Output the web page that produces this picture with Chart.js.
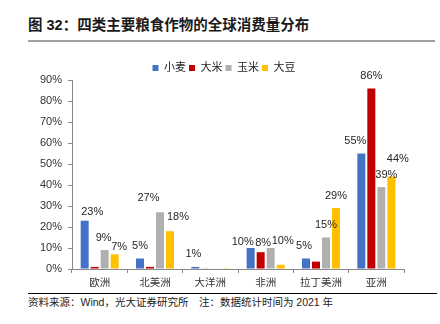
<!DOCTYPE html>
<html>
<head>
<meta charset="utf-8">
<script src="https://cdn.jsdelivr.net/npm/chart.js@4"></script>
<style>
  body { margin: 0; width: 440px; height: 324px; background: #fff; position: relative; overflow: hidden;
         font-family: "Liberation Sans", "Noto Sans CJK SC", sans-serif; }
  #title { position: absolute; left: 28px; top: 15px; font-size: 14.5px; font-weight: bold; color: #1a1a1a; line-height: 20px; }
  #rule1 { position: absolute; left: 28px; top: 40px; width: 407px; height: 2px; background: #a0a0a0; }
  #box { position: absolute; left: 0; top: 50px; width: 440px; height: 242px; }
  #rule2 { position: absolute; left: 28px; top: 293px; width: 409px; height: 1px; background: #000; }
  #src { position: absolute; left: 28px; top: 295px; font-size: 10.5px; line-height: 14px; color: #222; white-space: pre; }
</style>
</head>
<body>
<div id="title">图 32：四类主要粮食作物的全球消费量分布</div>
<div id="rule1"></div>
<div id="box"><canvas id="mycanvas"></canvas></div>
<div id="rule2"></div>
<div id="src">资料来源：Wind，光大证券研究所　注：数据统计时间为 2021 年</div>

<script>
// share of global consumption by region, %
var regions = ['欧洲', '北美洲', '大洋洲', '非洲', '拉丁美洲', '亚洲'];
var wheat   = [23, 5, 1, 10, 5, 55];
var rice    = [1, 1, 0.3, 8, 3.5, 86];
var corn    = [9, 27, 0.2, 10, 15, 39];
var soybean = [7, 18, 0.1, 2, 29, 44];

// which bars carry a value label
var wheatShown   = [true, true, true, true, true, true];
var riceShown    = [false, false, false, true, false, true];
var cornShown    = [true, true, false, true, true, true];
var soybeanShown = [true, true, false, false, true, true];

var font = '"Liberation Sans", "Noto Sans CJK SC", sans-serif';

// labels that were moved off centre to avoid overlaps: [dx, dy]
var nudge = {
    '0-0': [7.5, 4], '2-0': [-1, 0], '3-0': [4.5, 5],
    '2-1': [-11.5, -1.5], '3-1': [8, -2],
    '0-2': [-2, 0],
    '0-3': [-8, 6.5], '1-3': [2.5, 3], '2-3': [12, 5],
    '0-4': [-2, 0],
    '0-5': [-6, 0], '2-5': [5, 0], '3-5': [6.5, -5.5]
};

var valueLabels = {
    id: 'valueLabels',
    afterDatasetsDraw: function(chart) {
        var ctx = chart.ctx;
        ctx.save();
        ctx.font = '11px ' + font;
        ctx.fillStyle = '#262626';
        ctx.textAlign = 'center';
        ctx.textBaseline = 'middle';
        chart.data.datasets.forEach(function(ds, d) {
            chart.getDatasetMeta(d).data.forEach(function(bar, i) {
                if (!ds.shown[i]) return;
                var n = nudge[d + '-' + i] || [0, 0];
                ctx.fillText(Math.round(ds.data[i]) + '%', bar.x + n[0], bar.y - 12.5 + n[1]);
            });
        });
        ctx.restore();
    }
};

// pull the plot up closer to the legend, and sit the legend a bit right of centre
var tightLegend = {
    id: 'tightLegend',
    beforeInit: function(chart) {
        var lg = chart.legend;
        var fit = lg.fit.bind(lg);
        lg.fit = function() { fit(); this.height -= 3.5; };
    },
    afterLayout: function(chart) {
        chart.legend.left += 22;
        chart.legend.right += 22;
    }
};

var ctx = document.getElementById('mycanvas');

var chart = new Chart(ctx, {
    type: 'bar',
    data: {
        labels: regions,
        datasets: [
            { label: '小麦', data: wheat,   shown: wheatShown,   backgroundColor: '#4472C4' },
            { label: '大米', data: rice,    shown: riceShown,    backgroundColor: '#C00000' },
            { label: '玉米', data: corn,    shown: cornShown,    backgroundColor: '#B0B0B0' },
            { label: '大豆', data: soybean, shown: soybeanShown, backgroundColor: '#FFC000' }
        ]
    },
    options: {
        responsive: true,
        maintainAspectRatio: false,
        animation: false,
        layout: { padding: { top: 9.5, right: 36, left: 0, bottom: 0 } },
        datasets: { bar: { categoryPercentage: 0.723, barPercentage: 0.8 } },
        plugins: {
            legend: {
                position: 'top',
                labels: {
                    boxWidth: 6, boxHeight: 6, padding: 3,
                    color: '#262626',
                    font: { size: 11, family: font }
                }
            },
            tooltip: { enabled: false }
        },
        scales: {
            x: {
                afterFit: function(s) { s.height = 23; },
                grid: { drawOnChartArea: false, offset: true, tickLength: 4, color: '#888' },
                border: { color: '#888' },
                ticks: { color: '#333', padding: 4, font: { size: 10.5, family: font } }
            },
            y: {
                min: 0, max: 90,
                afterFit: function(s) { s.width = 72; },
                grid: { drawOnChartArea: false, tickLength: 4, color: '#888' },
                border: { color: '#888' },
                ticks: {
                    stepSize: 10, color: '#333', padding: 6,
                    font: { size: 11, family: font },
                    callback: function(v) { return v + '%'; }
                }
            }
        }
    },
    plugins: [valueLabels, tightLegend]
});
</script>
</body>
</html>
